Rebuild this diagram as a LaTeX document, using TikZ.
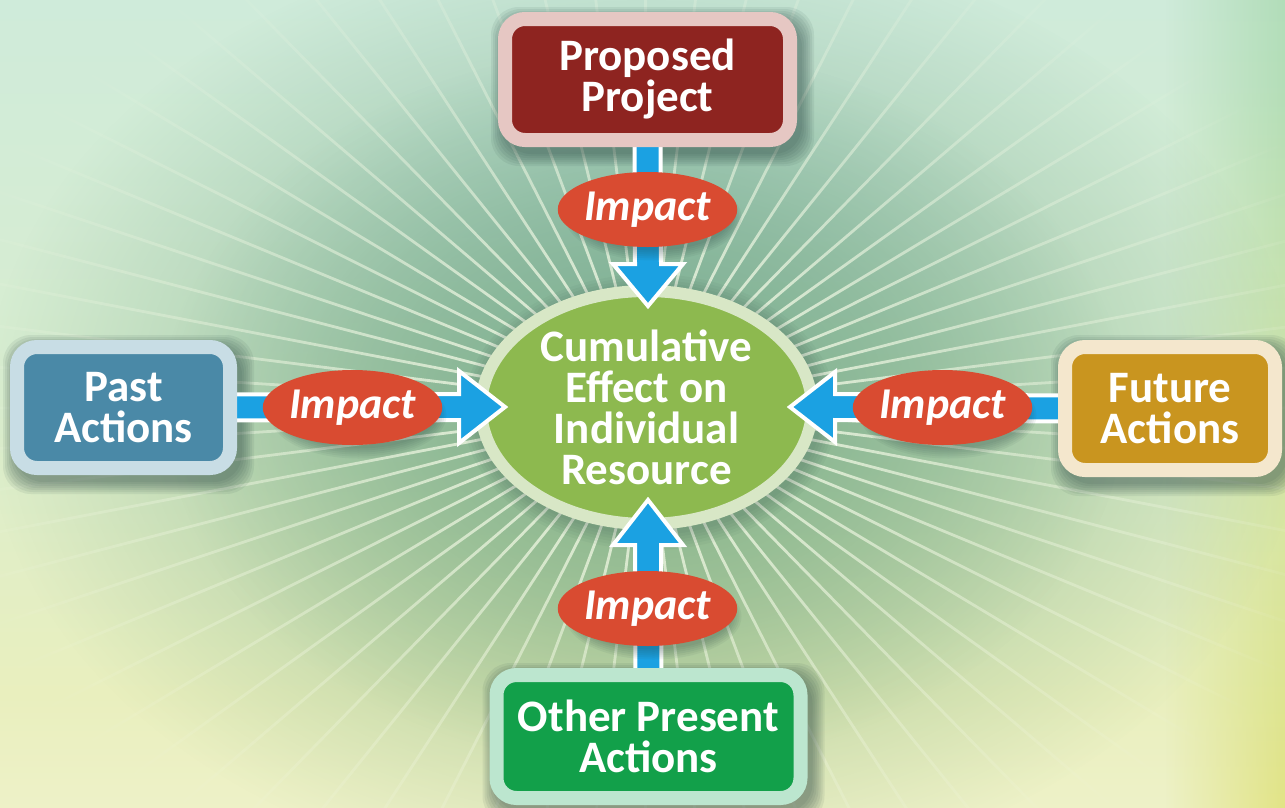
\documentclass[tikz,border=0pt]{standalone}
\usepackage{fontspec}
\setmainfont{Carlito}
\usetikzlibrary{calc,fadings,shapes.geometric}

\definecolor{bgA}{HTML}{FAFAEC}
\definecolor{bgB}{HTML}{F1F3CE}
\definecolor{bgC}{HTML}{E9EFBE}
\definecolor{bgD}{HTML}{D8EDD0}
\definecolor{bgE}{HTML}{CFEBDA}
\definecolor{bgF}{HTML}{C6E9E1}
\definecolor{stA}{HTML}{C6E4BC}
\definecolor{stB}{HTML}{E2E486}
\definecolor{stC}{HTML}{D6E6A6}
\definecolor{stD}{HTML}{B4DEB8}
\definecolor{stE}{HTML}{A8DAC0}
\definecolor{glowT}{HTML}{72AA9A}
\definecolor{glowB}{HTML}{96BB86}
\definecolor{rayCol}{HTML}{F4FAE6}
\definecolor{shadowCol}{HTML}{23403D}
\definecolor{ppFill}{HTML}{8E2420}
\definecolor{ppLine}{HTML}{E6C7C3}
\definecolor{paFill}{HTML}{4A89A7}
\definecolor{paLine}{HTML}{C8DDE5}
\definecolor{faFill}{HTML}{C9951F}
\definecolor{faLine}{HTML}{F4E7CD}
\definecolor{opFill}{HTML}{12A04A}
\definecolor{opLine}{HTML}{BCE6CF}
\definecolor{ceFill}{HTML}{8DB94F}
\definecolor{ceRing}{HTML}{D8E7C6}
\definecolor{impRed}{HTML}{D94B31}
\definecolor{arrBlue}{HTML}{1BA1E2}

\pgfdeclareverticalshading{bgshade}{100bp}{color(0bp)=(bgA); color(20bp)=(bgB); color(32bp)=(bgC); color(52bp)=(bgD); color(75bp)=(bgE); color(100bp)=(bgF)}
\pgfdeclareverticalshading{stripshade}{100bp}{color(0bp)=(stA); color(25bp)=(stB); color(45bp)=(stC); color(70bp)=(stD); color(100bp)=(stE)}
\tikzfading[name=radfade, inner color=transparent!0, outer color=transparent!100]
\tikzfading[name=fadeRight, left color=transparent!100, right color=transparent!0]

\pgfdeclarelayer{bg}
\pgfdeclarelayer{low}
\pgfdeclarelayer{arrows}
\pgfsetlayers{bg,low,arrows,main}

\begin{document}
\begin{tikzpicture}[x=1pt,y=-1pt,
  box/.style={rectangle, rounded corners=20, line width=14, inner sep=0, text=white, align=center, font=\fontsize{45}{41}\selectfont\bfseries},
  impact/.style={ellipse, fill=impRed, minimum width=165, minimum height=75, inner sep=0, text=white, font=\fontsize{44}{44}\selectfont\bfseries\itshape},
  arr/.style={fill=arrBlue, draw=white, line width=4, line join=miter},
  shad/.style={fill=shadowCol, fill opacity=0.08}]
\useasboundingbox (0,0) rectangle (1285,807);

% main nodes
\node[box, fill=ppFill, draw=ppLine, minimum width=285, minimum height=121] (pp) at (647.5,79.5) {Proposed\\Project};
\node[box, fill=paFill, draw=paLine, minimum width=213, minimum height=121] (pa) at (123.5,407.5) {Past\\Actions};
\node[box, fill=faFill, draw=faLine, minimum width=210, minimum height=123] (fa) at (1170,408.5) {Future\\Actions};
\node[box, fill=opFill, draw=opLine, minimum width=304, minimum height=123] (op) at (648.5,736.5) {Other Present\\Actions};

\node[impact] (i1) at (647.5,209.5) {Impact};
\node[impact] (i2) at (352.5,407.5) {Impact};
\node[impact] (i3) at (942.5,407.5) {Impact};
\node[impact] (i4) at (647.5,608.5) {Impact};

\begin{pgfonlayer}{low}
\foreach \e in {0,3,...,15} {
  \fill[shad, fill opacity=0.04] (650,412) ellipse [x radius=172+\e, y radius=123+\e];
}
\node[ellipse, fill=ceFill, draw=ceRing, line width=12, minimum width=331, minimum height=233, inner sep=0, text=white, align=center, font=\fontsize{45}{41}\selectfont\bfseries] (ce) at (646.5,407.5) {Cumulative\\Effect on\\Individual\\Resource};
\end{pgfonlayer}

\coordinate (tT) at (648,306);
\coordinate (tB) at (648,500);
\coordinate (tL) at (505,407);
\coordinate (tR) at (790,407);

\begin{pgfonlayer}{arrows}
\draw[arr] ($(pp.south)+(-13,-10)$) -- ($(tT)+(-13,-42)$) -- ($(tT)+(-35,-42)$) -- (tT) -- ($(tT)+(35,-42)$) -- ($(tT)+(13,-42)$) -- ($(pp.south)+(13,-10)$) -- cycle;
\draw[arr] ($(op.north)+(-13,10)$) -- ($(tB)+(-13,45)$) -- ($(tB)+(-35,45)$) -- (tB) -- ($(tB)+(35,45)$) -- ($(tB)+(13,45)$) -- ($(op.north)+(13,10)$) -- cycle;
\draw[arr] ($(pa.east)+(-10,-13)$) -- ($(tL)+(-46,-13)$) -- ($(tL)+(-46,-36)$) -- (tL) -- ($(tL)+(-46,36)$) -- ($(tL)+(-46,13)$) -- ($(pa.east)+(-10,13)$) -- cycle;
\draw[arr] ($(fa.west)+(10,-13)$) -- ($(tR)+(45,-13)$) -- ($(tR)+(45,-35)$) -- (tR) -- ($(tR)+(45,35)$) -- ($(tR)+(45,13)$) -- ($(fa.west)+(10,13)$) -- cycle;
\foreach \n in {i1,i2,i3,i4} {
  \foreach \e in {0,2,...,10} {
    \fill[shad, fill opacity=0.06] ($(\n)+(6,8)$) ellipse [x radius=78+\e, y radius=33+\e];
  }
}
\end{pgfonlayer}

\begin{pgfonlayer}{bg}
\shade[shading=bgshade] (0,0) rectangle (1285,807);
\shade[shading=stripshade, path fading=fadeRight] (1165,0) rectangle (1285,807);
\shade[top color=glowT, bottom color=glowB, path fading=radfade] (646,407) ellipse [x radius=660, y radius=480];
\shade[top color=glowT, bottom color=glowB, path fading=radfade] (646,407) ellipse [x radius=480, y radius=360];
\draw[rayCol, line width=2.8, path fading=radfade] foreach \a in {0,5,...,355} {(646,407) -- ++(\a:740 and 530)};
\foreach \n in {pp,pa,fa,op} {
  \foreach \e in {0,2,...,12} {
    \fill[shad, rounded corners=28] ($(\n.north west)+(5-\e,7-\e)$) rectangle ($(\n.south east)+(5+\e,7+\e)$);
  }
}
\end{pgfonlayer}
\end{tikzpicture}
\end{document}
